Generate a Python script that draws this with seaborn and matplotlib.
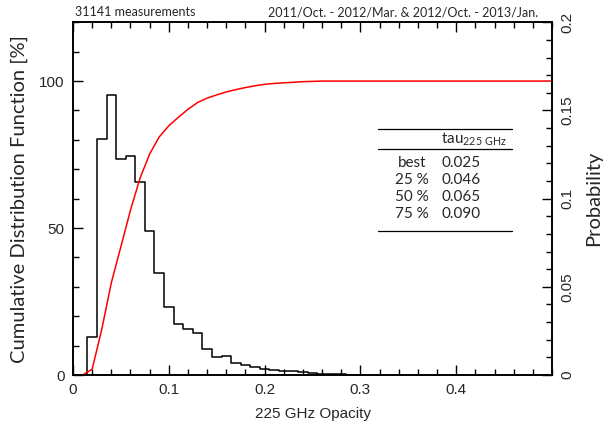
# -*- coding: utf-8 -*-
# 225 GHz opacity : histogram (probability) + cumulative distribution
import numpy as np
import pandas as pd
import seaborn as sns
from matplotlib import pyplot as plt
from matplotlib.ticker import MultipleLocator

sns.set_theme(style="ticks")
plt.rcParams['font.family'] = ['Liberation Sans', 'DejaVu Sans']

# Data ~~~~~~~~~~~~~~~~~~~~~~~~~~~~~~~~~~~~~~~~~~~~~~~~~~~~~~~~~~~~~~~~~
bin_left = [0.005, 0.015, 0.025, 0.035, 0.045, 0.055, 0.065, 0.075, 0.085, 0.095,
            0.105, 0.115, 0.125, 0.135, 0.145, 0.155, 0.165, 0.175, 0.185, 0.195,
            0.205, 0.215, 0.225, 0.235, 0.245, 0.255, 0.265, 0.275, 0.285, 0.295]
prob = [0.0, 0.0217, 0.1336, 0.159, 0.1225, 0.1244, 0.1093, 0.0818, 0.0577, 0.0384,
        0.0289, 0.0263, 0.0236, 0.0146, 0.0104, 0.0108, 0.0066, 0.0057, 0.0047, 0.0034,
        0.0030, 0.0025, 0.0020, 0.0015, 0.0011, 0.0008, 0.0005, 0.0003, 0.0002, 0.0001]

cdf_x = [0.01, 0.02, 0.03, 0.04, 0.05, 0.06, 0.07, 0.08, 0.09, 0.10,
         0.11, 0.12, 0.13, 0.14, 0.15, 0.16, 0.17, 0.18, 0.19, 0.20,
         0.21, 0.22, 0.23, 0.24, 0.25, 0.26, 0.50]
cdf_pct = [0.0, 2.0, 15.5, 31.4, 43.7, 56.1, 67.0, 75.2, 81.0, 84.8,
           87.7, 90.4, 92.7, 94.2, 95.3, 96.3, 97.1, 97.8, 98.4, 98.9,
           99.2, 99.4, 99.6, 99.8, 99.9, 100.0, 100.0]

row_names = ['best', '25 %', '50 %', '75 %']
row_tau = ['0.025', '0.046', '0.065', '0.090']

n_meas = '31141 measurements'
period = '2011/Oct. - 2012/Mar. & 2012/Oct. - 2013/Jan.'

hist_df = pd.DataFrame({'x': np.array(bin_left) + 0.005, 'p': prob})
edges = bin_left + [bin_left[-1] + 0.01]
cdf_df = pd.DataFrame({'x': cdf_x, 'c': cdf_pct})

# Figure ~~~~~~~~~~~~~~~~~~~~~~~~~~~~~~~~~~~~~~~~~~~~~~~~~~~~~~~~~~~~~~~~
fig = plt.figure(figsize=(6.12, 4.32), dpi=100)
ax = fig.add_axes([0.1193, 0.1319, 0.7827, 0.8165])
ax2 = ax.twinx()
ax.set_zorder(ax2.get_zorder() + 1)
ax.patch.set_visible(False)

sns.histplot(data=hist_df, x='x', weights='p', bins=edges, element='step',
             fill=False, color='black', linewidth=1.1, ax=ax2)
sns.lineplot(data=cdf_df, x='x', y='c', color='red', linewidth=1.1, ax=ax)

ax.set_xlim(0, 0.5)
ax.set_ylim(0, 120)
ax2.set_ylim(0, 0.2)

ax.xaxis.set_major_locator(MultipleLocator(0.1))
ax.xaxis.set_minor_locator(MultipleLocator(0.02))
ax.yaxis.set_major_locator(MultipleLocator(50))
ax.yaxis.set_minor_locator(MultipleLocator(10))
ax2.yaxis.set_major_locator(MultipleLocator(0.05))
ax2.yaxis.set_minor_locator(MultipleLocator(0.01))
ax.set_xticks([0, 0.1, 0.2, 0.3, 0.4])
ax.set_xticklabels(['0', '0.1', '0.2', '0.3', '0.4'])
ax.set_yticks([0, 50, 100])
ax.set_yticklabels(['0', '50', '100'])
ax2.set_yticks([0, 0.05, 0.1, 0.15, 0.2])
ax2.set_yticklabels(['0', '0.05', '0.1', '0.15', '0.2'], rotation=90, va='center')

for a in (ax, ax2):
    for s in a.spines.values():
        s.set_visible(True)
        s.set_linewidth(1.2)
        s.set_color('black')
ax.tick_params(which='both', direction='in', top=True, right=False, labelsize=11,
               color='black', width=1)
ax.tick_params(which='major', length=7, pad=6)
ax.tick_params(which='minor', length=4)
ax2.tick_params(which='both', direction='in', right=True, left=False, labelsize=11,
                color='black', width=1)
ax2.tick_params(which='major', length=7, pad=6)
ax2.tick_params(which='minor', length=4)

ax.set_xlabel('225 GHz Opacity', fontsize=11, labelpad=7)
ax.set_ylabel('Cumulative Distribution Function [%]', family=['Lato', 'DejaVu Sans'],
              fontsize=14.5, labelpad=8)
ax2.set_ylabel('Probability', family=['Lato', 'DejaVu Sans'], fontsize=14.5, labelpad=8)

fig.text(0.122, 0.958, n_meas, family=['Lato', 'DejaVu Sans'], fontsize=9, va='bottom')
fig.text(0.879, 0.958, period, family=['Lato', 'DejaVu Sans'], fontsize=9,
         va='bottom', ha='right')

# table of percentiles
tx0, tx1 = 0.637, 0.9165
for yy in (0.6975, 0.641, 0.408):
    ax.plot([tx0, tx1], [yy, yy], transform=ax.transAxes, color='black',
            linewidth=0.9, clip_on=False)
tfont = ['Lato', 'DejaVu Sans']
ax.text(0.769, 0.658, r'tau$_{\mathregular{225\ GHz}}$', transform=ax.transAxes,
        family=tfont, fontsize=11, va='baseline')
row_y = [0.6, 0.552, 0.504, 0.456]
for name, tau, yy in zip(row_names, row_tau, row_y):
    ax.text(0.708, yy, name, transform=ax.transAxes, family=tfont, fontsize=11,
            ha='center', va='center')
    ax.text(0.769, yy, tau, transform=ax.transAxes, family=tfont, fontsize=11,
            ha='left', va='center')

fig.savefig('out.png', dpi=100)
